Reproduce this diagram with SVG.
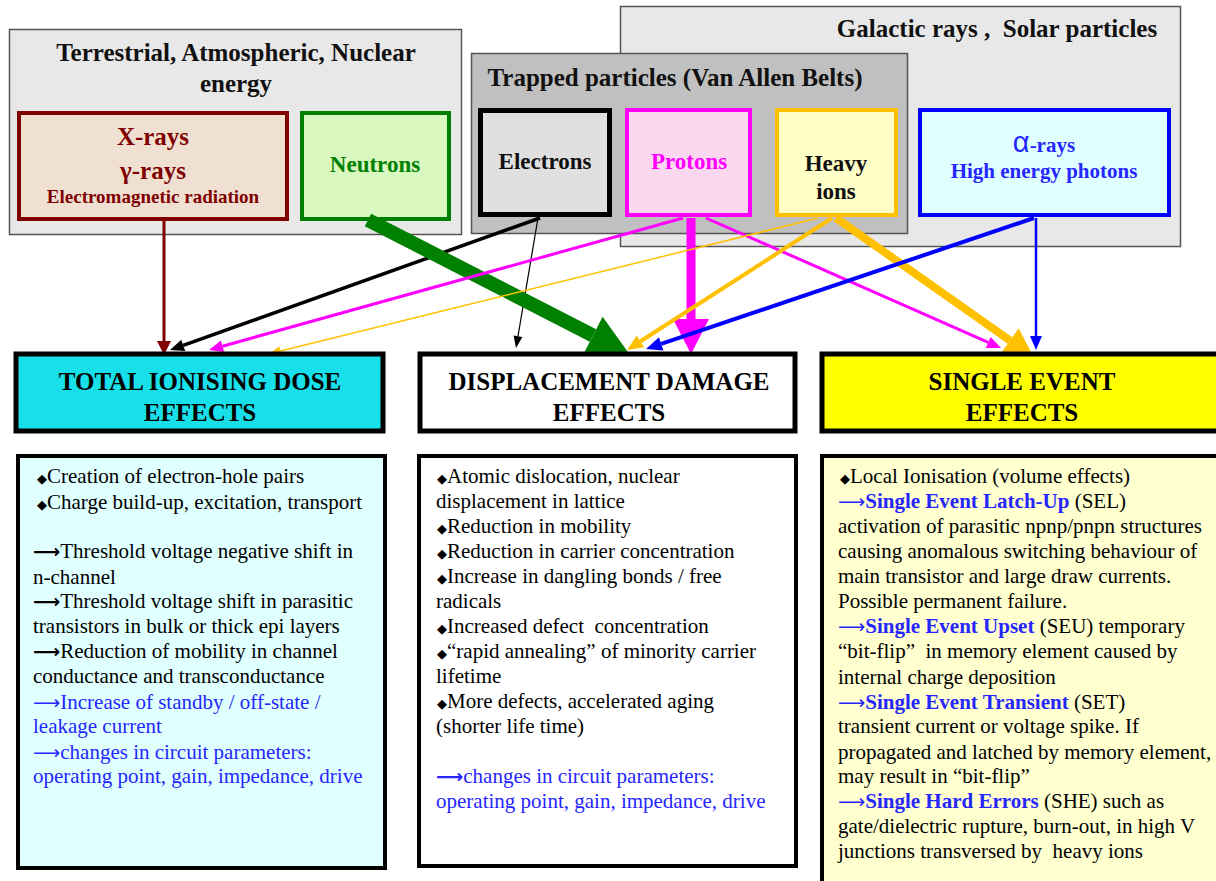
<svg xmlns="http://www.w3.org/2000/svg" width="1216" height="881" viewBox="0 0 1216 881" font-family="'Liberation Serif','Times New Roman',serif">
<style>
text{font-family:"Liberation Serif","Times New Roman",serif;}
.b{font-weight:bold;}
.grp{stroke:#555;stroke-width:1.5;}
.ttl{font-size:25px;font-weight:bold;fill:#111;}
.lbl{font-size:23px;font-weight:bold;}
.hdr{stroke:#000;stroke-width:5;}
.htx{font-size:25px;font-weight:bold;fill:#000;text-anchor:middle;}
.bx{stroke:#000;stroke-width:4;}
.t{font-size:21px;fill:#000;}
.bl{fill:#2626ff;}
.dia{font-size:13px;}
.la{font-family:"DejaVu Sans",sans-serif;font-size:19px;}
.lab{font-family:"DejaVu Sans",sans-serif;font-size:19px;font-weight:bold;}
</style>
<defs>
<marker id="hDred" markerUnits="userSpaceOnUse" markerWidth="14" markerHeight="14" viewBox="0 0 14 14" refX="0" refY="7" orient="auto" overflow="visible"><path d="M0,0L14,7L0,14z" fill="#800000"/></marker>
<marker id="hBlk" markerUnits="userSpaceOnUse" markerWidth="14" markerHeight="12" viewBox="0 0 14 12" refX="0" refY="6" orient="auto" overflow="visible"><path d="M0,0L14,6L0,12z" fill="#000"/></marker>
<marker id="hBlkT" markerUnits="userSpaceOnUse" markerWidth="12" markerHeight="9" viewBox="0 0 12 9" refX="0" refY="4.5" orient="auto" overflow="visible"><path d="M0,0L12,4.5L0,9z" fill="#000"/></marker>
<marker id="hGrn" markerUnits="userSpaceOnUse" markerWidth="41" markerHeight="42" viewBox="0 0 41 42" refX="0" refY="21" orient="auto" overflow="visible"><path d="M0,0L41,21L0,42z" fill="#008000"/></marker>
<marker id="hMag" markerUnits="userSpaceOnUse" markerWidth="14" markerHeight="12" viewBox="0 0 14 12" refX="0" refY="6" orient="auto" overflow="visible"><path d="M0,0L14,6L0,12z" fill="#ff00ff"/></marker>
<marker id="hMagB" markerUnits="userSpaceOnUse" markerWidth="35" markerHeight="36" viewBox="0 0 35 36" refX="0" refY="18" orient="auto" overflow="visible"><path d="M0,0L35,18L0,36z" fill="#ff00ff"/></marker>
<marker id="hOrT" markerUnits="userSpaceOnUse" markerWidth="12" markerHeight="10" viewBox="0 0 12 10" refX="0" refY="5" orient="auto" overflow="visible"><path d="M0,0L12,5L0,10z" fill="#ffc000"/></marker>
<marker id="hOr" markerUnits="userSpaceOnUse" markerWidth="16" markerHeight="14" viewBox="0 0 16 14" refX="0" refY="7" orient="auto" overflow="visible"><path d="M0,0L16,7L0,14z" fill="#ffc000"/></marker>
<marker id="hOrB" markerUnits="userSpaceOnUse" markerWidth="29" markerHeight="30" viewBox="0 0 29 30" refX="0" refY="15" orient="auto" overflow="visible"><path d="M0,0L29,15L0,30z" fill="#ffc000"/></marker>
<marker id="hBlu" markerUnits="userSpaceOnUse" markerWidth="16" markerHeight="14" viewBox="0 0 16 14" refX="0" refY="7" orient="auto" overflow="visible"><path d="M0,0L16,7L0,14z" fill="#0000ff"/></marker>
<marker id="hBluV" markerUnits="userSpaceOnUse" markerWidth="14" markerHeight="12" viewBox="0 0 14 12" refX="0" refY="6" orient="auto" overflow="visible"><path d="M0,0L14,6L0,12z" fill="#0000ff"/></marker>
</defs>
<rect width="1216" height="881" fill="#fff"/>

<g id="galactic">
<rect class="grp" x="620.5" y="6.5" width="560" height="240" fill="#e8e8e8"/>
<text class="ttl" x="997" y="37" text-anchor="middle">Galactic rays ,&#160; Solar particles</text>
</g>
<g id="trapped">
<rect class="grp" x="471.5" y="53.5" width="436" height="180" fill="#c0c0c0"/>
<text class="ttl" x="675" y="86" text-anchor="middle">Trapped particles (Van Allen Belts)</text>
</g>
<g id="terrestrial">
<rect class="grp" x="9.5" y="29.5" width="452" height="205" fill="#e8e8e8"/>
<text class="ttl" x="236" y="61" text-anchor="middle">Terrestrial, Atmospheric, Nuclear</text>
<text class="ttl" x="236" y="92" text-anchor="middle">energy</text>
</g>
<g id="xrays">
<rect x="19" y="113" width="268" height="106" fill="#f0e0d2" stroke="#800000" stroke-width="4"/>
<text class="b" x="153" y="145" font-size="25" fill="#800000" text-anchor="middle">X-rays</text>
<text class="b" x="153" y="179" font-size="25" fill="#800000" text-anchor="middle">γ-rays</text>
<text class="b" x="153" y="203" font-size="19" fill="#800000" text-anchor="middle">Electromagnetic radiation</text>
</g>
<g id="neutrons">
<rect x="302" y="113" width="147" height="106" fill="#d8f8c0" stroke="#008000" stroke-width="4"/>
<text class="lbl" x="375" y="172" fill="#008000" text-anchor="middle">Neutrons</text>
</g>
<g id="electrons">
<rect x="480.5" y="110.5" width="129" height="104" fill="#e0e0e0" stroke="#000" stroke-width="5"/>
<text class="lbl" x="545" y="169" fill="#111" text-anchor="middle">Electrons</text>
</g>
<g id="protons">
<rect x="627" y="110" width="123" height="105" fill="#fcd8f0" stroke="#ff00ff" stroke-width="4"/>
<text class="lbl" x="689" y="169" fill="#ff00ff" text-anchor="middle">Protons</text>
</g>
<g id="heavyions">
<rect x="777" y="110" width="119" height="105" fill="#ffffc8" stroke="#ffc000" stroke-width="4"/>
<text class="lbl" x="836" y="171" fill="#111" text-anchor="middle">Heavy</text>
<text class="lbl" x="836" y="199" fill="#111" text-anchor="middle">ions</text>
</g>
<g id="alpha">
<rect x="920" y="110" width="249" height="105" fill="#e0ffff" stroke="#0000ff" stroke-width="4"/>
<text x="1044" y="152" text-anchor="middle" fill="#2626ff"><tspan font-family="'Liberation Sans',Arial,sans-serif" font-size="29">α</tspan><tspan class="b" font-size="21">-rays</tspan></text>
<text class="b" x="1044" y="178" font-size="21" fill="#2626ff" text-anchor="middle">High energy photons</text>
</g>

<g id="connectors" fill="none">
<line x1="164" y1="221" x2="164" y2="341" stroke="#800000" stroke-width="3" marker-end="url(#hDred)"/>
<line x1="540" y1="218" x2="183.2" y2="345.3" stroke="#000" stroke-width="3.5" marker-end="url(#hBlk)"/>
<line x1="538" y1="218" x2="518" y2="336.2" stroke="#000" stroke-width="1.2" marker-end="url(#hBlkT)"/>
<line x1="368" y1="220" x2="593" y2="335.5" stroke="#008000" stroke-width="14" marker-end="url(#hGrn)"/>
<line x1="683" y1="218" x2="222.5" y2="346.2" stroke="#ff00ff" stroke-width="3" marker-end="url(#hMag)"/>
<line x1="691" y1="218" x2="691" y2="319" stroke="#ff00ff" stroke-width="9" marker-end="url(#hMagB)"/>
<line x1="706" y1="218" x2="988.2" y2="342.4" stroke="#ff00ff" stroke-width="3" marker-end="url(#hMag)"/>
<line x1="818" y1="218" x2="280.6" y2="351.1" stroke="#ffc000" stroke-width="1.5" marker-end="url(#hOrT)"/>
<line x1="832" y1="218" x2="640.5" y2="341.3" stroke="#ffc000" stroke-width="4" marker-end="url(#hOr)"/>
<line x1="836" y1="218" x2="1010" y2="340.5" stroke="#ffc000" stroke-width="8" marker-end="url(#hOrB)"/>
<line x1="1034" y1="218" x2="661.2" y2="343.9" stroke="#0000ff" stroke-width="4" marker-end="url(#hBlu)"/>
<line x1="1036" y1="218" x2="1036" y2="336" stroke="#0000ff" stroke-width="2.5" marker-end="url(#hBluV)"/>
</g>

<g id="tid-header">
<rect class="hdr" x="16" y="354" width="367" height="77" fill="#18e0ea"/>
<text class="htx" x="200" y="390">TOTAL IONISING DOSE</text>
<text class="htx" x="200" y="421">EFFECTS</text>
</g>
<g id="dd-header">
<rect class="hdr" x="420" y="354" width="375" height="77" fill="#fff"/>
<text class="htx" x="609" y="390">DISPLACEMENT DAMAGE</text>
<text class="htx" x="609" y="421">EFFECTS</text>
</g>
<g id="see-header">
<rect class="hdr" x="822" y="354" width="400" height="77" fill="#ffff00"/>
<text class="htx" x="1022" y="390">SINGLE EVENT</text>
<text class="htx" x="1022" y="421">EFFECTS</text>
</g>

<g id="tid-text">
<rect class="bx" x="18" y="456" width="367" height="412" fill="#e0ffff"/>
<text class="t" x="37" y="483"><tspan class="dia">◆</tspan>Creation of electron-hole pairs</text>
<text class="t" x="37" y="509"><tspan class="dia">◆</tspan>Charge build-up, excitation, transport</text>
<text class="t" x="33" y="558"><tspan class="lab">⟶</tspan>Threshold voltage negative shift in</text>
<text class="t" x="33" y="584">n-channel</text>
<text class="t" x="33" y="608"><tspan class="lab">⟶</tspan>Threshold voltage shift in parasitic</text>
<text class="t" x="33" y="633">transistors in bulk or thick epi layers</text>
<text class="t" x="33" y="658"><tspan class="lab">⟶</tspan>Reduction of mobility in channel</text>
<text class="t" x="33" y="683">conductance and transconductance</text>
<text class="t bl" x="33" y="709"><tspan class="la">⟶</tspan>Increase of standby / off-state /</text>
<text class="t bl" x="33" y="733">leakage current</text>
<text class="t bl" x="33" y="759"><tspan class="la">⟶</tspan>changes in circuit parameters:</text>
<text class="t bl" x="33" y="783">operating point, gain, impedance, drive</text>
</g>

<g id="dd-text">
<rect class="bx" x="419" y="456" width="377" height="410" fill="#fff"/>
<text class="t" x="437" y="483"><tspan class="dia">◆</tspan>Atomic dislocation, nuclear</text>
<text class="t" x="436" y="508">displacement in lattice</text>
<text class="t" x="437" y="533"><tspan class="dia">◆</tspan>Reduction in mobility</text>
<text class="t" x="437" y="558"><tspan class="dia">◆</tspan>Reduction in carrier concentration</text>
<text class="t" x="437" y="583"><tspan class="dia">◆</tspan>Increase in dangling bonds / free</text>
<text class="t" x="436" y="608">radicals</text>
<text class="t" x="437" y="633"><tspan class="dia">◆</tspan>Increased defect&#160; concentration</text>
<text class="t" x="437" y="658"><tspan class="dia">◆</tspan>“rapid annealing” of minority carrier</text>
<text class="t" x="436" y="683">lifetime</text>
<text class="t" x="437" y="708"><tspan class="dia">◆</tspan>More defects, accelerated aging</text>
<text class="t" x="436" y="733">(shorter life time)</text>
<text class="t bl" x="436" y="783"><tspan class="lab">⟶</tspan>changes in circuit parameters:</text>
<text class="t bl" x="436" y="808">operating point, gain, impedance, drive</text>
</g>

<g id="see-text">
<rect class="bx" x="822" y="456" width="400" height="430" fill="#ffffd0"/>
<text class="t" x="840" y="483"><tspan class="dia">◆</tspan>Local Ionisation (volume effects)</text>
<text class="t" x="838" y="508"><tspan class="bl la">⟶</tspan><tspan class="bl b">Single Event Latch-Up</tspan> (SEL)</text>
<text class="t" x="838" y="533">activation of parasitic npnp/pnpn structures</text>
<text class="t" x="838" y="558">causing anomalous switching behaviour of</text>
<text class="t" x="838" y="583">main transistor and large draw currents.</text>
<text class="t" x="838" y="608">Possible permanent failure.</text>
<text class="t" x="838" y="633"><tspan class="bl la">⟶</tspan><tspan class="bl b">Single Event Upset</tspan> (SEU) temporary</text>
<text class="t" x="838" y="658">“bit-flip”&#160; in memory element caused by</text>
<text class="t" x="838" y="684">internal charge deposition</text>
<text class="t" x="838" y="709"><tspan class="bl la">⟶</tspan><tspan class="bl b">Single Event Transient</tspan> (SET)</text>
<text class="t" x="838" y="733">transient current or voltage spike. If</text>
<text class="t" x="838" y="759">propagated and latched by memory element,</text>
<text class="t" x="838" y="783">may result in “bit-flip”</text>
<text class="t" x="838" y="808"><tspan class="bl la">⟶</tspan><tspan class="bl b">Single Hard Errors</tspan> (SHE) such as</text>
<text class="t" x="838" y="833">gate/dielectric rupture, burn-out, in high V</text>
<text class="t" x="838" y="858">junctions transversed by&#160; heavy ions</text>
</g>
</svg>
